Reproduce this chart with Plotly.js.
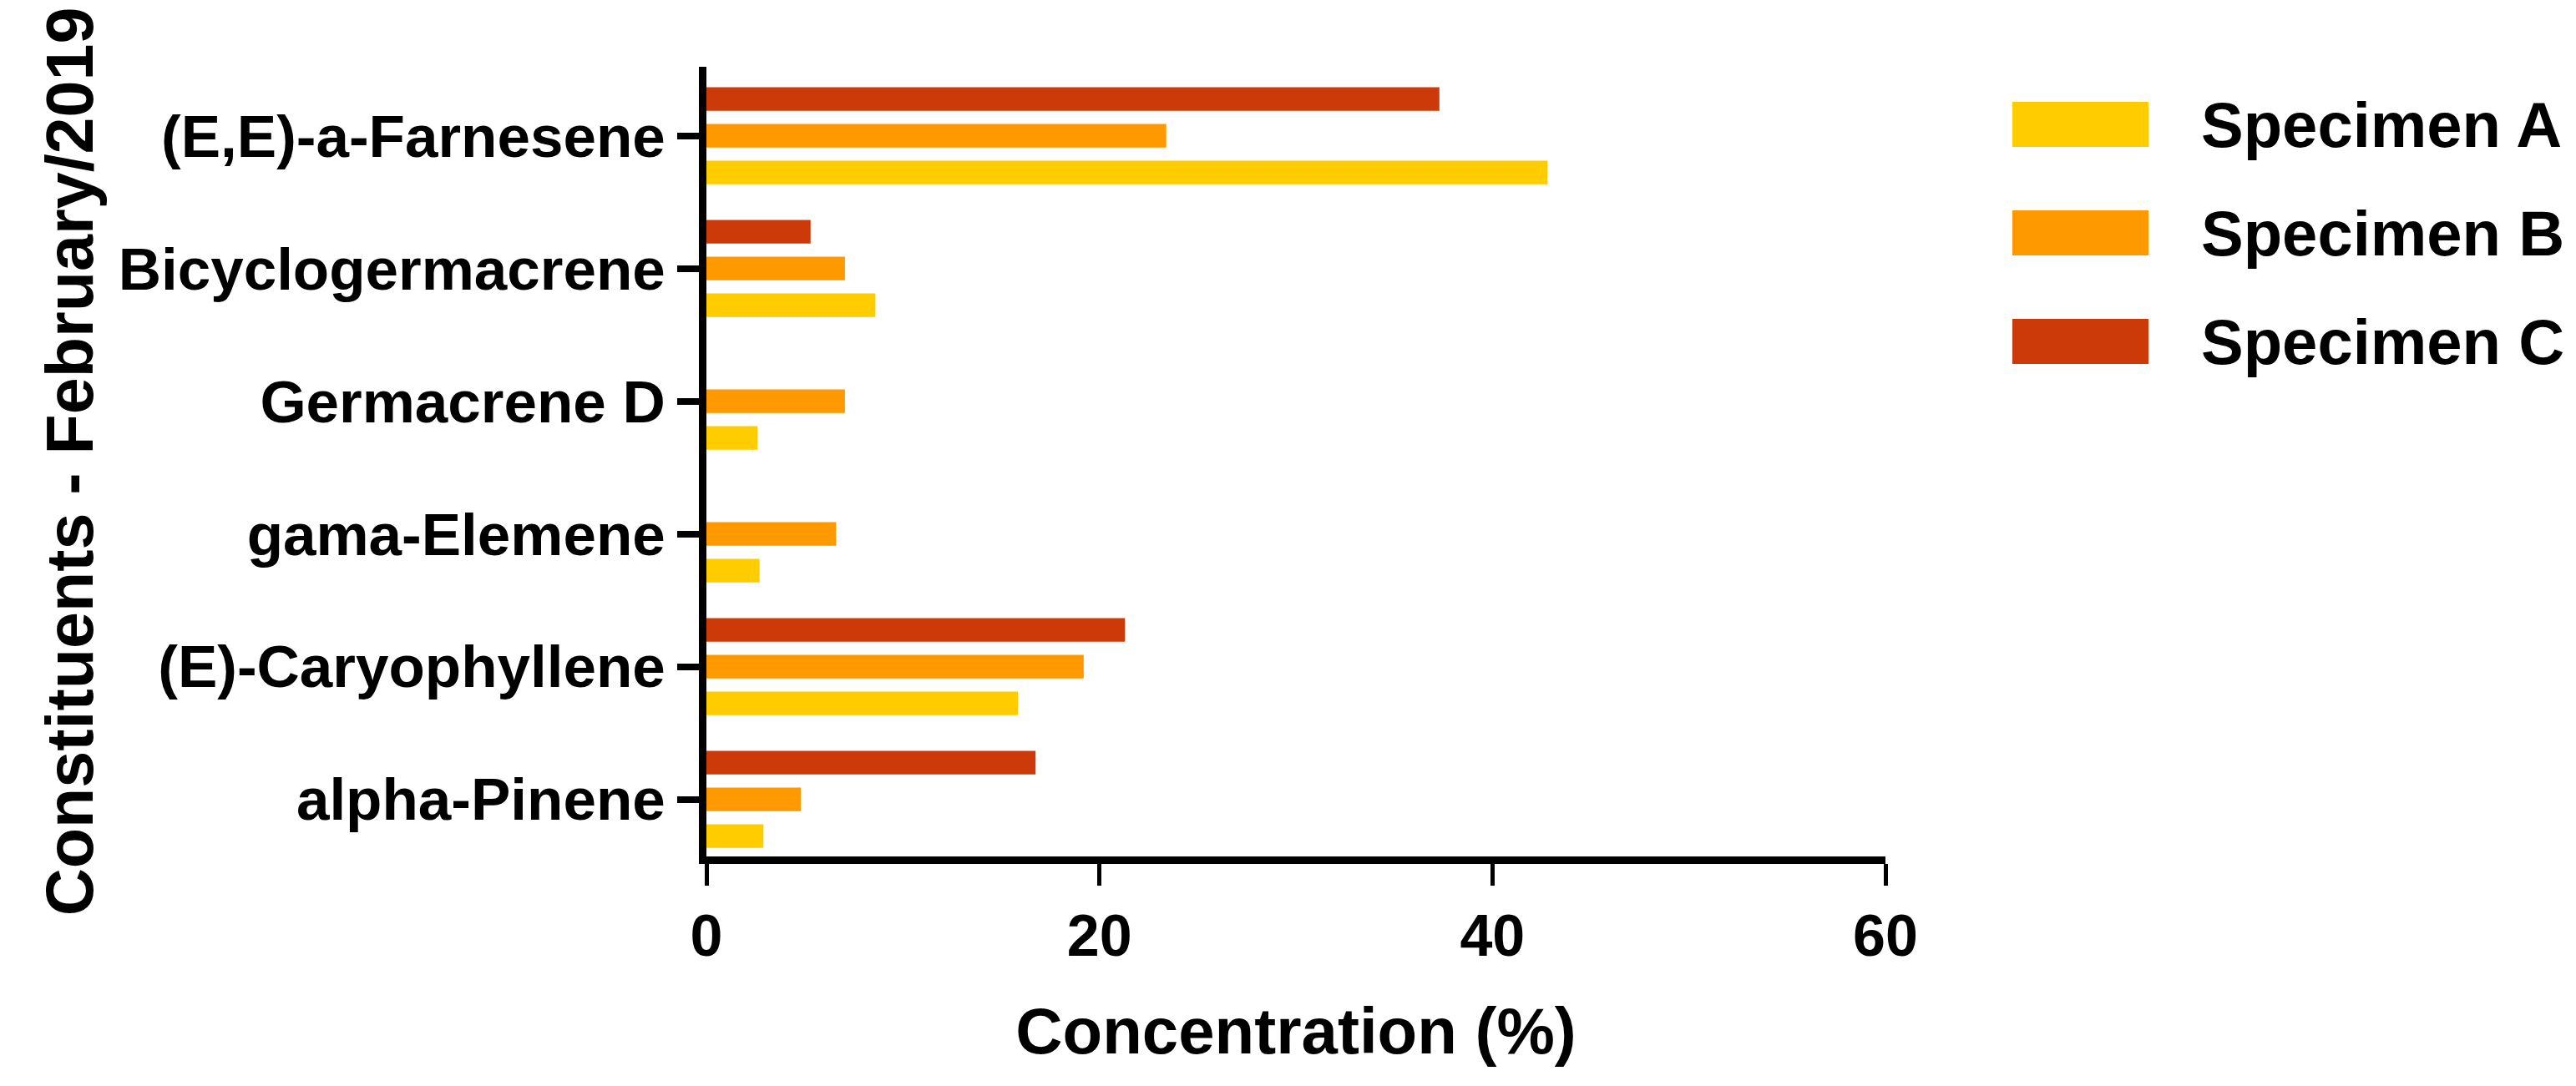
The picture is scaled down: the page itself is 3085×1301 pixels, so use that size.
<!DOCTYPE html>
<html>
<head>
<meta charset="utf-8">
<script src="https://cdn.plot.ly/plotly-3.0.1.min.js"></script>
<style>html,body{margin:0;padding:0;background:#fff;}#chart{width:3085px;height:1301px;}</style>
</head>
<body>
<div id="chart"></div>
<script>
// Categories, bottom to top
const constituents = ["alpha-Pinene", "(E)-Caryophyllene", "gama-Elemene", "Germacrene D", "Bicyclogermacrene", "(E,E)-a-Farnesene"];
const specimenNames = ["Specimen A", "Specimen B", "Specimen C"];
const specimenColors = ["#FFCC00", "#FF9900", "#CC3A09"];
const specimenA = [2.9, 15.85, 2.7, 2.6, 8.6, 42.8];
const specimenB = [4.8, 19.2, 6.6, 7.05, 7.05, 23.4];
const specimenC = [16.75, 21.3, null, null, 5.3, 37.3];
const xTicks = [0, 20, 40, 60];

const seriesValues = [specimenA, specimenB, specimenC];
const FONT = "Liberation Sans, Arial, Helvetica, sans-serif";

const traces = seriesValues.map((vals, i) => ({
  type: "bar",
  orientation: "h",
  name: specimenNames[i],
  y: constituents,
  x: vals,
  marker: {color: specimenColors[i], line: {width: 0}},
  hoverinfo: "x+y+name"
}));

// Figure geometry
const W = 3085, H = 1301;
const L = 846, R = 827, T = 80, B = 275;
const plotW = W - L - R, plotH = H - T - B;
const px2x = p => (p - L) / plotW;
const px2y = p => (H - B - p) / plotH;

// Manual legend (large swatches)
const shapes = [], annotations = [];
specimenNames.forEach((nm, i) => {
  const cy = 149 + i * 130;
  shapes.push({
    type: "rect", xref: "paper", yref: "paper",
    x0: px2x(2410), x1: px2x(2573), y0: px2y(cy + 27), y1: px2y(cy - 27),
    fillcolor: specimenColors[i], line: {width: 0}
  });
  annotations.push({
    xref: "paper", yref: "paper", x: px2x(2634), y: px2y(cy),
    xanchor: "left", yanchor: "middle", showarrow: false, text: nm,
    font: {family: FONT, size: 76, color: "#000", weight: 700}
  });
});

const layout = {
  width: W, height: H,
  margin: {l: L, r: R, t: T, b: B, pad: 0, autoexpand: false},
  paper_bgcolor: "#fff", plot_bgcolor: "#fff",
  showlegend: false,
  barmode: "group",
  bargap: 0.17,
  bargroupgap: 0.36,
  font: {family: FONT, color: "#000"},
  xaxis: {
    range: [0, 60], tickvals: xTicks, ticktext: xTicks.map(String),
    showgrid: false, zeroline: false,
    showline: true, linecolor: "#000", linewidth: 9,
    ticks: "outside", ticklen: 26, tickwidth: 5, tickcolor: "#000",
    tickfont: {family: FONT, size: 70, color: "#000", weight: 700},
    title: {text: "Concentration (%)", font: {family: FONT, size: 78, color: "#000", weight: 700}, standoff: 52},
    automargin: false, fixedrange: true
  },
  yaxis: {
    type: "category", range: [-0.43, 5.52],
    showgrid: false, zeroline: false,
    showline: true, linecolor: "#000", linewidth: 9,
    ticks: "outside", ticklen: 26, tickwidth: 8, tickcolor: "#000",
    tickfont: {family: FONT, size: 71, color: "#000", weight: 700},
    title: {text: "Constituents - February/2019", font: {family: FONT, size: 79, color: "#000", weight: 700}, standoff: 8},
    automargin: true, fixedrange: true
  },
  shapes: shapes,
  annotations: annotations
};

Plotly.newPlot("chart", traces, layout, {displayModeBar: false, staticPlot: true});
</script>
</body>
</html>
